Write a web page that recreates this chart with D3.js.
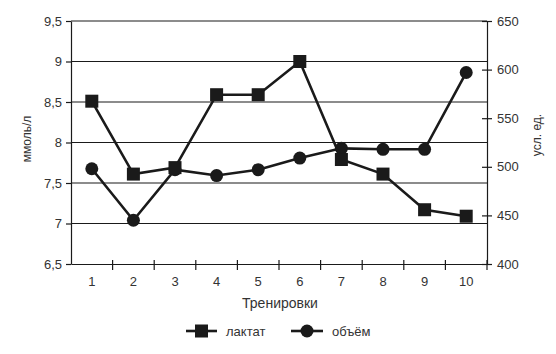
<!DOCTYPE html>
<html>
<head>
	<meta charset="utf-8">
	<script src="https://d3js.org/d3.v7.min.js"></script>
	<style>
		body { margin: 0; background: #fff; }
		text { font-family: "Liberation Sans", Arial, sans-serif; fill: #333; }
	</style>
</head>
<body>
	<div id="chart"></div>
	<script type="text/javascript">
		// data
		var sessions = ["1", "2", "3", "4", "5", "6", "7", "8", "9", "10"];
		var lactate = [8.51, 7.61, 7.69, 8.59, 8.59, 9.0, 7.79, 7.61, 7.17, 7.09];
		var volume = [498, 445, 497, 491, 497, 509, 519, 518, 518, 597];
		var leftTicks = [6.5, 7, 7.5, 8, 8.5, 9, 9.5];
		var rightTicks = [400, 450, 500, 550, 600, 650];

		var width = 556, height = 354;
		var plotLeft = 71, plotRight = 487, plotTop = 21, plotBottom = 264;

		var svg = d3.select("#chart").append("svg")
			.attr("width", width)
			.attr("height", height);

		var xScale = d3.scaleBand().domain(sessions).range([plotLeft, plotRight]);
		var yLeft = d3.scaleLinear().domain([6.5, 9.5]).range([plotBottom, plotTop]);
		var yRight = d3.scaleLinear().domain([400, 650]).range([plotBottom, plotTop]);

		var comma = function(d){ return String(d).replace(".", ","); };

		// gridlines
		svg.append("g").selectAll("line")
			.data(leftTicks.slice(1)).enter().append("line")
			.attr("x1", plotLeft).attr("x2", plotRight)
			.attr("y1", function(d){ return yLeft(d); })
			.attr("y2", function(d){ return yLeft(d); })
			.attr("stroke", "#1a1a1a").attr("stroke-width", 1.2);

		// left axis
		var yAxisL = d3.axisLeft(yLeft).tickValues(leftTicks).tickSize(5).tickPadding(4)
			.tickFormat(comma).tickSizeOuter(0);
		var gl = svg.append("g").attr("transform", "translate(" + plotLeft + ",0)").call(yAxisL);
		gl.selectAll("text").style("font-size", "13px");

		// right axis
		var yAxisR = d3.axisRight(yRight).tickValues(rightTicks).tickSize(5).tickPadding(5)
			.tickSizeOuter(0);
		var gr = svg.append("g").attr("transform", "translate(" + plotRight + ",0)").call(yAxisR);
		gr.selectAll(".tick line").attr("x1", -5);
		gr.selectAll("text").style("font-size", "13px");

		// x axis: labels at band centers, ticks at band edges
		var xAxis = d3.axisBottom(xScale).tickSize(0).tickPadding(13).tickSizeOuter(0);
		var gx = svg.append("g").attr("transform", "translate(0," + plotBottom + ")").call(xAxis);
		gx.selectAll("text").style("font-size", "13px");
		gx.append("g").selectAll("line")
			.data(sessions.slice(1).concat(["end"])).enter().append("line")
			.attr("x1", function(d){ return d == "end" ? plotRight : xScale(d); })
			.attr("x2", function(d){ return d == "end" ? plotRight : xScale(d); })
			.attr("y1", -4).attr("y2", 6)
			.attr("stroke", "#1a1a1a");

		svg.selectAll(".domain, .tick line").attr("stroke", "#1a1a1a").attr("stroke-width", 1.2);
		gx.selectAll("line").attr("stroke-width", 1.2);

		// axis titles
		svg.append("text")
			.attr("transform", "translate(31,139) rotate(-90)")
			.attr("text-anchor", "middle")
			.style("font-size", "12px")
			.text("ммоль/л");
		svg.append("text")
			.attr("transform", "translate(541,135) rotate(-90)")
			.attr("text-anchor", "middle")
			.style("font-size", "12px")
			.text("усл. ед.");
		svg.append("text")
			.attr("x", 280).attr("y", 308)
			.attr("text-anchor", "middle")
			.style("font-size", "14px")
			.text("Тренировки");

		var cx = function(d, i){ return xScale(sessions[i]) + xScale.bandwidth() / 2; };

		// volume series
		svg.append("path").datum(volume)
			.attr("d", d3.line().x(cx).y(function(d){ return yRight(d); }))
			.attr("fill", "none").attr("stroke", "#1a1a1a").attr("stroke-width", 2.6);
		svg.selectAll("circle.vol")
			.data(volume).enter().append("circle")
			.attr("class", "vol")
			.attr("cx", cx)
			.attr("cy", function(d){ return yRight(d); })
			.attr("r", 6.5)
			.attr("fill", "#1a1a1a");

		// lactate series
		svg.append("path").datum(lactate)
			.attr("d", d3.line().x(cx).y(function(d){ return yLeft(d); }))
			.attr("fill", "none").attr("stroke", "#1a1a1a").attr("stroke-width", 2.6);
		svg.selectAll("rect.lac")
			.data(lactate).enter().append("rect")
			.attr("class", "lac")
			.attr("x", function(d, i){ return cx(d, i) - 6.5; })
			.attr("y", function(d){ return yLeft(d) - 6.5; })
			.attr("width", 13).attr("height", 13)
			.attr("fill", "#1a1a1a");

		// legend
		var leg = svg.append("g").attr("transform", "translate(0,331)");
		leg.append("line").attr("x1", 186).attr("x2", 217).attr("y1", 0).attr("y2", 0)
			.attr("stroke", "#1a1a1a").attr("stroke-width", 2.6);
		leg.append("rect").attr("x", 195).attr("y", -6.5).attr("width", 13).attr("height", 13)
			.attr("fill", "#1a1a1a");
		leg.append("text").attr("x", 226).attr("y", 4.5).style("font-size", "13px").text("лактат");
		leg.append("line").attr("x1", 291).attr("x2", 323).attr("y1", 0).attr("y2", 0)
			.attr("stroke", "#1a1a1a").attr("stroke-width", 2.6);
		leg.append("circle").attr("cx", 307).attr("cy", 0).attr("r", 6.5).attr("fill", "#1a1a1a");
		leg.append("text").attr("x", 332).attr("y", 4.5).style("font-size", "13px").text("объём");
	</script>
</body>
</html>
